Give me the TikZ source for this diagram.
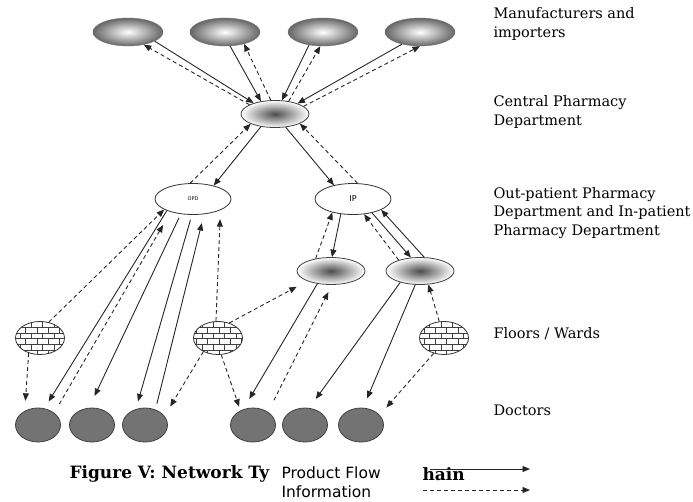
\documentclass[tikz,border=0pt]{standalone}
\usepackage{fontspec}
\setmainfont{DejaVu Serif}
\setsansfont{DejaVu Sans}
\usetikzlibrary{arrows.meta,shapes.geometric,patterns}
\tikzset{>={Triangle[length=7.5pt,width=6pt]},
  maker/.style={ellipse,draw=black!55,minimum width=70pt,minimum height=28pt,inner color=white,outer color=black!60},
  hub/.style={ellipse,draw=black!75,line width=.8pt,minimum width=68pt,minimum height=27pt,inner color=black!70,outer color=white},
  unitbox/.style={ellipse,draw=black!80,fill=white,line width=.8pt,minimum width=76pt,minimum height=31pt},
  ward/.style={ellipse,draw=black!80,line width=.8pt,pattern=bricks,pattern color=black!75,minimum width=49pt,minimum height=33pt},
  doctor/.style={ellipse,draw=black!75,line width=.8pt,fill=black!55,minimum width=45pt,minimum height=34pt},
  flowline/.style={->,line width=.9pt,black!85},
  infoline/.style={->,line width=.9pt,black!85,dash pattern=on 4pt off 3pt},
  tierlabel/.style={anchor=west,align=left,font=\fontsize{14.5}{18.5}\selectfont}}
\begin{document}
\begin{tikzpicture}[x=1pt,y=-1pt]
\useasboundingbox (0,0) rectangle (693,501);

% levels of the network
\foreach \i/\x in {1/128,2/225,3/323,4/420}
  \node[maker] (m\i) at (\x,32) {};
\node[hub] (c) at (275,114) {};
\node[unitbox,font=\sffamily\fontsize{5}{6}\selectfont] (opd) at (193,199) {OPD};
\node[unitbox,font=\sffamily\fontsize{8}{9}\selectfont] (ip) at (353,199) {IP};
\node[hub] (s1) at (331,271) {};
\node[hub] (s2) at (420,271) {};
\foreach \i/\x in {1/40,2/218,3/444}
  \node[ward] (w\i) at (\x,338) {};
\foreach \i/\x in {1/38,2/92,3/145,4/253,5/305,6/361}
  \node[doctor] (d\i) at (\x,425) {};

% manufacturers <-> central pharmacy
\foreach \i/\a/\b in {1/-19/153,2/-70/138,3/-137/63,4/-146/25}
  \draw[flowline] (m\i.\a) -- (c.\b);
\foreach \i/\a/\b in {1/160/-39,2/107/-32,3/43/-101,4/15/-90}
  \draw[infoline] (c.\a) -- (m\i.\b);

% central pharmacy <-> OPD and IP
\draw[flowline] (c.-138) -- (opd.33);
\draw[infoline] (opd.100) -- (c.-158);
\draw[flowline] (c.-51) -- (ip.144);
\draw[infoline] (ip.74) -- (c.-21);

% OPD side
\draw[infoline] (w1.61) -- (opd.-160);
\draw[infoline,shorten >=10pt] (w1.-127) -- (d1.133);
\draw[flowline,shorten >=8pt] (opd.-156) -- (d1.69);
\draw[infoline,shorten <=10pt,shorten >=15pt] (d1.37) -- (opd.-150);
\draw[flowline,shorten <=4pt,shorten >=13pt] (opd.-129) -- (d2.100);
\draw[flowline,shorten <=5pt,shorten >=8pt] (opd.-94) -- (d3.120);
\draw[flowline,shorten <=6pt,shorten >=9pt] (d3.56) -- (opd.-54);
\draw[infoline,shorten >=9pt] (w2.97) -- (opd.-22);
\draw[infoline,shorten >=11pt] (w2.-137) -- (d3.25);
\draw[infoline,shorten >=4pt] (w2.-79) -- (d4.131);

% IP side
\draw[infoline,shorten >=12pt] (w2.53) -- (s1.-157);
\draw[flowline] (ip.-129) -- (s1.86);
\draw[infoline] (s1.141) -- (ip.-147);
\draw[flowline,shorten >=12pt] (s1.-137) -- (d4.122);
\draw[infoline,shorten <=13pt,shorten >=8pt] (d4.41) -- (s1.-86);
\draw[infoline] (s2.153) -- (ip.-54);
\draw[flowline] (ip.-36) -- (s2.124);
\draw[flowline] (s2.73) -- (ip.-21);
\draw[flowline,shorten >=11pt] (s2.-150) -- (d5.76);
\draw[flowline,shorten >=10pt] (s2.-109) -- (d6.83);
\draw[infoline] (w3.106) -- (s2.-58);
\draw[infoline,shorten >=10pt] (w3.-124) -- (d6.28);

% level names
\node[tierlabel] (tmaker) at (490,24) {Manufacturers and\\importers};
\node[tierlabel] (tcentral) at (490,112) {Central Pharmacy\\Department};
\node[tierlabel] (tunit) at (490,213) {Out-patient Pharmacy\\Department and In-patient\\Pharmacy Department};
\node[tierlabel] (tward) at (490,334) {Floors / Wards};
\node[tierlabel] (tdoctor) at (490,410) {Doctors};

% caption and key
\node[anchor=west,font=\bfseries\fontsize{17}{19}\selectfont] (caption) at (66,474) {Figure V: Network Ty};
\node[anchor=west,align=left,font=\sffamily\fontsize{15.5}{19}\selectfont] (keytext) at (278,482) {Product Flow\\Information};
\node[anchor=west,font=\bfseries\fontsize{17}{19}\selectfont] (chain) at (419,474) {hain};
\coordinate (kflowa) at (430,469);
\coordinate (kflowb) at (530,469);
\coordinate (kinfoa) at (423,490);
\coordinate (kinfob) at (530,490);
\draw[flowline] (kflowa) -- (kflowb);
\draw[infoline] (kinfoa) -- (kinfob);
\end{tikzpicture}
\end{document}
